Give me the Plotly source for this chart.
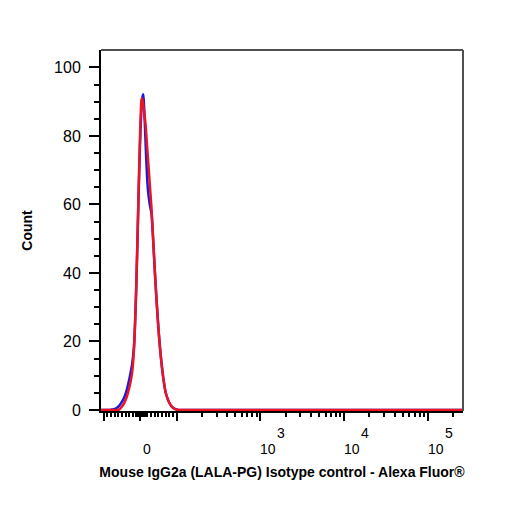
import math
import plotly.graph_objects as go

# ---- data (fluorescence intensity bin centres, counts) ----
red_intensity = [-108, -78, -61, -56, -50, -45, -39, -35, -30, -25, -21, -17, -14, -11, -8, -5, -2, 1, 3, 4.5,
                 6, 8, 11, 15, 19, 23, 27, 31, 35, 40, 45, 50, 55, 60, 65, 70, 75, 80, 86, 92, 98, 105,
                 150, 1000, 10000, 100000, 262144]
red_count = [0, 0, 0, 0.3, 1, 1.8, 3.2, 4.5, 6.5, 9, 12, 18, 25.5, 35.5, 48, 61, 74, 85, 90, 91,
             90.5, 89.5, 87, 83, 77, 71, 65, 59, 51, 41, 32, 24, 17.5, 12.3, 8.2, 5.1, 3.4, 2.1, 1.1, 0.5, 0.2, 0,
             0, 0, 0, 0, 0]

blue_intensity = [-108, -85, -70, -62, -55, -48, -42, -37, -32, -27, -22, -17, -14, -11, -8, -5, -2, 1, 4, 6.5,
                  8.5, 10.5, 13, 16, 19, 22, 25, 28, 31, 35, 40, 45, 50, 55, 60, 65, 70, 75, 80, 86, 92, 98, 105,
                  150, 1000, 10000, 100000, 262144]
blue_count = [0, 0, 0.3, 0.8, 1.6, 2.8, 4.2, 5.8, 8, 10.5, 13.5, 18.5, 25.5, 35, 47, 60, 72, 82, 88.5, 91.5,
              92.2, 89, 83, 75, 68, 63.5, 61, 59, 57.5, 51, 41, 32, 24, 17.5, 12.3, 8.2, 5.1, 3.4, 2.1, 1.1, 0.5, 0.2, 0,
              0, 0, 0, 0, 0]

x_min_value = -108
x_max_value = 262144
major_tick_values = [-100, 0, 100, 1000, 10000, 100000]
label_values = [0, 1000, 10000, 100000]
label_bases = ["0", "10", "10", "10"]
label_exponents = ["", "3", "4", "5"]
minor_linear_values = [v for v in range(-90, 100, 10) if v != 0] + [v for v in range(-12, 13, 2)]
minor_log_values = [m * 10 ** e for e in (2, 3, 4) for m in range(2, 10)] + [200000]
y_major_values = [0, 20, 40, 60, 80, 100]

x_title = "Mouse IgG2a (LALA-PG) Isotype control - Alexa Fluor®"
y_title = "Count"


# biexponential-like display transform (linear near zero, log above 100), in decades
def biex(v):
    lin = 100.0
    a = abs(v)
    if a <= lin:
        t = a / (lin * math.log(10))
    else:
        t = 1 / math.log(10) + math.log10(a / lin)
    return t if v >= 0 else -t


fig = go.Figure()
fig.add_trace(go.Scatter(x=[biex(v) for v in blue_intensity], y=blue_count, mode="lines",
                         line=dict(color="rgb(25,25,225)", width=2.5, shape="spline", smoothing=0.6),
                         hoverinfo="skip", showlegend=False))
fig.add_trace(go.Scatter(x=[biex(v) for v in red_intensity], y=red_count, mode="lines",
                         line=dict(color="rgb(235,20,35)", width=2.5, shape="spline", smoothing=0.6),
                         hoverinfo="skip", showlegend=False))

font_family = "Liberation Sans, Arial, sans-serif"

annotations = []
for v, base, exp in zip(label_values, label_bases, label_exponents):
    if exp == "":
        annotations.append(dict(x=biex(v), xref="x", y=0, yref="paper", text=base, showarrow=False,
                                xanchor="center", yanchor="middle", xshift=7, yshift=-38,
                                font=dict(size=14, color="black")))
    else:
        annotations.append(dict(x=biex(v), xref="x", y=0, yref="paper", text=base, showarrow=False,
                                xanchor="left", yanchor="middle", xshift=-2, yshift=-38,
                                font=dict(size=14, color="black")))
        annotations.append(dict(x=biex(v), xref="x", y=0, yref="paper", text=exp, showarrow=False,
                                xanchor="left", yanchor="middle", xshift=15, yshift=-22,
                                font=dict(size=14, color="black")))

fig.update_layout(
    width=498, height=498,
    margin=dict(l=93, r=43, t=42, b=95),
    paper_bgcolor="white", plot_bgcolor="white",
    font=dict(family=font_family, color="black"),
    xaxis=dict(
        range=[biex(x_min_value), biex(x_max_value)],
        tickmode="array", tickvals=[biex(v) for v in major_tick_values],
        showticklabels=False,
        ticks="outside", ticklen=8, tickwidth=2, tickcolor="black",
        minor=dict(tickmode="array", tickvals=[biex(v) for v in minor_linear_values + minor_log_values],
                   ticks="outside", ticklen=4, tickwidth=1.5, tickcolor="black", showgrid=False),
        showline=True, linecolor="black", linewidth=2, showgrid=False, zeroline=False,
        layer="below traces",
        title=dict(text="<b>" + x_title + "</b>", font=dict(size=14), standoff=47),
    ),
    yaxis=dict(
        range=[-0.3, 105.1],
        tickmode="array", tickvals=y_major_values,
        ticks="outside", ticklen=10, tickwidth=2, tickcolor="black",
        minor=dict(tickmode="array", tickvals=[v for v in range(5, 105, 5) if v % 20 != 0],
                   ticks="outside", ticklen=5, tickwidth=1.5, tickcolor="black", showgrid=False),
        showline=True, linecolor="black", linewidth=2, showgrid=False, zeroline=False,
        tickfont=dict(size=16), ticklabelstandoff=5,
        layer="below traces",
        title=dict(text="<b>" + y_title + "</b>", font=dict(size=14), standoff=18),
    ),
    annotations=annotations,
    shapes=[
        dict(type="line", xref="paper", yref="paper", x0=0, x1=1, y0=1, y1=1,
             line=dict(color="#505050", width=2)),
        dict(type="line", xref="paper", yref="paper", x0=1, x1=1, y0=0, y1=1,
             line=dict(color="#505050", width=2)),
    ],
)

fig.write_html("out.html")
